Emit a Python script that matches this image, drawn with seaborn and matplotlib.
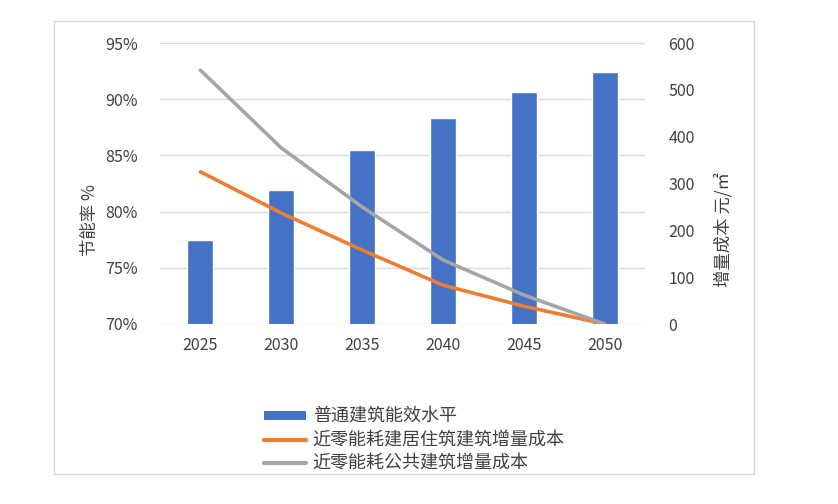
import matplotlib
matplotlib.use("Agg")
import matplotlib.pyplot as plt
import matplotlib.patches as mpatches
import seaborn as sns
import numpy as np
import pandas as pd

years = ["2025", "2030", "2035", "2040", "2045", "2050"]
efficiency = [77.5, 81.9, 85.5, 88.3, 90.6, 92.4]          # %
cost_residential = [325, 237, 158, 83, 38, 0]               # 元/㎡
cost_public = [542, 376, 250, 137, 62, 0]                   # 元/㎡
left_ticks = [70, 75, 80, 85, 90, 95]
right_ticks = [0, 100, 200, 300, 400, 500, 600]

label_bar = "普通建筑能效水平"
label_res = "近零能耗建居住筑建筑增量成本"
label_pub = "近零能耗公共建筑增量成本"

sns.set_theme(style="white")
plt.rcParams["font.family"] = ["Noto Sans CJK SC", "DejaVu Sans"]

BLUE = "#4472C4"
ORANGE = "#ED7D31"
GRAY = "#A5A5A5"
TXT = "#404040"

fig = plt.figure(figsize=(8.38, 5.04), dpi=100)
fig.patch.set_facecolor("white")
ax = fig.add_axes([160/838, 1-324/504, 485/838, (324-43)/504])

df = pd.DataFrame({"year": years, "eff": efficiency,
                   "res": cost_residential, "pub": cost_public})
df["pos"] = np.arange(len(years))

sns.barplot(data=df, x="year", y="eff", color=BLUE, saturation=1,
            width=0.32, ax=ax, zorder=2)
ax.set_ylim(left_ticks[0], left_ticks[-1])
ax.set_xlim(-0.5, len(years) - 0.5)
ax.set_yticks(left_ticks)
ax.set_yticklabels([f"{v}%" for v in left_ticks])
ax.yaxis.grid(True, color="#D9D9D9", linewidth=1, zorder=0)
ax.set_axisbelow(True)
for s in ax.spines.values():
    s.set_visible(False)
ax.tick_params(axis="both", length=0, labelsize=11.5, colors=TXT)
ax.tick_params(axis="y", pad=16)
ax.tick_params(axis="x", pad=9)
ax.set_xlabel("")
ax.set_ylabel("节能率 %", fontsize=12.5, color=TXT)
ax.yaxis.set_label_coords(-0.125, 0.37)

ax2 = ax.twinx()
sns.lineplot(data=df, x="pos", y="res", color=ORANGE, linewidth=2.6,
             ax=ax2, legend=False)
sns.lineplot(data=df, x="pos", y="pub", color=GRAY, linewidth=2.6,
             ax=ax2, legend=False)
ax2.set_ylim(right_ticks[0], right_ticks[-1])
ax2.set_yticks(right_ticks)
ax2.set_xlim(-0.5, len(years) - 0.5)
for s in ax2.spines.values():
    s.set_visible(False)
ax2.tick_params(axis="y", length=0, labelsize=11.5, colors=TXT, pad=17)
ax2.set_ylabel("增量成本 元/㎡", fontsize=12.5, color=TXT, rotation=90)
ax2.yaxis.set_label_coords(1.142, 0.335)
ax2.grid(False)

handles = [
    mpatches.Rectangle((0, 0), 1, 1, facecolor=BLUE, edgecolor="none"),
    plt.Line2D([], [], color=ORANGE, linewidth=3),
    plt.Line2D([], [], color=GRAY, linewidth=3),
]
leg = fig.legend(handles, [label_bar, label_res, label_pub],
                 loc="upper left", bbox_to_anchor=(255/838, 1-399/504),
                 frameon=False, fontsize=13, handlelength=2.3,
                 handleheight=0.45, handletextpad=0.4, labelspacing=0.3,
                 borderpad=0)
for t in leg.get_texts():
    t.set_color(TXT)

fig.patches.append(mpatches.Rectangle((54/838, 1-474/504), 700/838, 453/504,
                                      transform=fig.transFigure, fill=False,
                                      edgecolor="#D9D9D9", linewidth=1))

fig.savefig("out.png", dpi=100)
